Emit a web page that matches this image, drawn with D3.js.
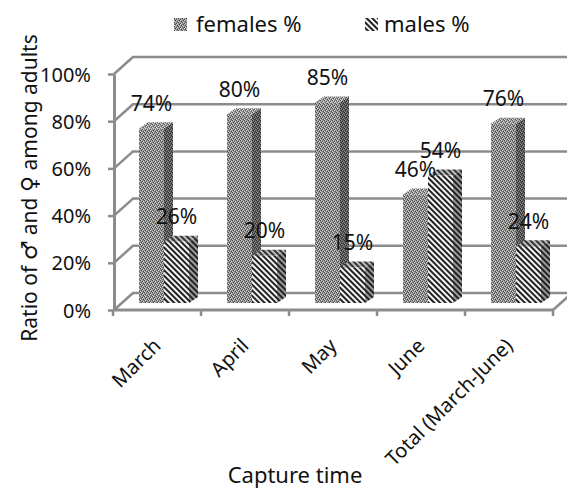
<!DOCTYPE html>
<html lang="en">
<head>
    <meta charset="UTF-8">
    <title>Ratio of males and females among adults</title>
    <script src="https://d3js.org/d3.v7.min.js"></script>
    <style>
        body { margin: 0; background: #fff; }
        text { font-family: "Noto Sans", "DejaVu Sans", sans-serif; fill: #111; }
    </style>
</head>
<body>
    <div id="chart"></div>
    <script>
        // Data
        const categories = ["March", "April", "May", "June", "Total (March-June)"];
        const females = [74, 80, 85, 46, 76];
        const males = [26, 20, 15, 54, 24];
        const yTicks = [0, 20, 40, 60, 80, 100];
        const seriesNames = ["females %", "males %"];

        const width = 567;
        const height = 488;

        const svg = d3.select("#chart")
            .append("svg")
            .attr("width", width)
            .attr("height", height);

        // Patterns for the 3D faces
        const defs = svg.append("defs");

        function dotPattern(id, base, dark, light) {
            const p = defs.append("pattern")
                .attr("id", id)
                .attr("patternUnits", "userSpaceOnUse")
                .attr("width", 4)
                .attr("height", 4);
            p.append("rect").attr("width", 4).attr("height", 4).attr("fill", base);
            [[0, 0], [2, 1], [1, 2], [3, 3]].forEach(([a, b]) =>
                p.append("rect").attr("x", a).attr("y", b).attr("width", 1).attr("height", 1).attr("fill", dark));
            [[1, 0], [3, 1], [0, 3], [2, 2]].forEach(([a, b]) =>
                p.append("rect").attr("x", a).attr("y", b).attr("width", 1).attr("height", 1).attr("fill", light));
        }

        function stripePattern(id, bg, fg) {
            const p = defs.append("pattern")
                .attr("id", id)
                .attr("patternUnits", "userSpaceOnUse")
                .attr("width", 4)
                .attr("height", 4)
                .attr("patternTransform", "rotate(-45)");
            p.append("rect").attr("width", 4).attr("height", 4).attr("fill", bg);
            p.append("rect").attr("width", 2).attr("height", 4).attr("fill", fg);
        }

        dotPattern("fFront", "#8e8e8e", "#4a4a4a", "#cfcfcf");
        dotPattern("fSide", "#5a5a5a", "#2e2e2e", "#8a8a8a");
        dotPattern("fTop", "#9a9a9a", "#555", "#d8d8d8");
        stripePattern("mFront", "#f4f4f4", "#222");
        stripePattern("mSide", "#9a9a9a", "#222");
        stripePattern("mTop", "#bbb", "#333");

        // Scales: front plane, back wall offset, bar plane
        const x = d3.scaleBand().domain(categories).range([113, 553]);
        const y = d3.scaleLinear().domain([0, 100]).range([310, 74]);
        const yBar = d3.scaleLinear().domain([0, 100]).range([303, 67]);
        const wallDx = 19, wallDy = -17;
        const barW = 25, sideDx = 9, topDy = -6;

        const grid = "#8c8c8c";
        const walls = svg.append("g");

        // Back wall gridlines
        walls.selectAll(".grid")
            .data(yTicks)
            .enter()
            .append("line")
            .attr("x1", 113 + wallDx)
            .attr("x2", width + 10)
            .attr("y1", d => y(d) + wallDy)
            .attr("y2", d => y(d) + wallDy)
            .attr("stroke", grid)
            .attr("stroke-width", 2.5);

        // Side wall diagonals
        walls.selectAll(".diag")
            .data(yTicks)
            .enter()
            .append("line")
            .attr("x1", 114)
            .attr("x2", 114 + wallDx)
            .attr("y1", d => y(d))
            .attr("y2", d => y(d) + wallDy)
            .attr("stroke", grid)
            .attr("stroke-width", 2.5);

        // Floor right edge
        walls.append("line")
            .attr("x1", 553).attr("y1", y(0))
            .attr("x2", 553 + wallDx).attr("y2", y(0) + wallDy)
            .attr("stroke", grid).attr("stroke-width", 2.5);

        // Bars
        const bars = [];
        categories.forEach((c, i) => {
            const cx = x(c) + x.bandwidth() / 2;
            bars.push({ cat: c, left: cx - 18, v: females[i], s: "f" });
            bars.push({ cat: c, left: cx + 7, v: males[i], s: "m" });
        });

        const barG = svg.append("g");
        bars.forEach(b => {
            const top = yBar(b.v), bot = yBar(0);
            const g = barG.append("g");
            // side
            g.append("path")
                .attr("d", `M${b.left + barW},${top} L${b.left + barW + sideDx},${top + topDy} L${b.left + barW + sideDx},${bot + topDy} L${b.left + barW},${bot} Z`)
                .attr("fill", `url(#${b.s}Side)`);
            // top
            g.append("path")
                .attr("d", `M${b.left},${top} L${b.left + sideDx},${top + topDy} L${b.left + barW + sideDx},${top + topDy} L${b.left + barW},${top} Z`)
                .attr("fill", `url(#${b.s}Top)`);
            // front
            g.append("rect")
                .attr("x", b.left)
                .attr("y", top)
                .attr("width", barW)
                .attr("height", bot - top)
                .attr("fill", `url(#${b.s}Front)`);
        });

        // Front value axis
        const yAxis = svg.append("g")
            .attr("transform", "translate(114,0)")
            .call(d3.axisLeft(y).tickValues(yTicks).tickFormat(d => d + "%").tickSize(6).tickSizeOuter(0).tickPadding(17));
        yAxis.attr("font-size", null).attr("font-family", null);
        yAxis.select(".domain").attr("stroke", grid).attr("stroke-width", 3);
        yAxis.selectAll(".tick line").attr("stroke", grid).attr("stroke-width", 2.5);
        yAxis.selectAll(".tick text")
            .style("font-size", "20px")
            .attr("fill", "#111")
            .attr("dy", "0.35em");

        // Front category axis (floor front edge)
        svg.append("line")
            .attr("x1", 113).attr("x2", 553)
            .attr("y1", y(0)).attr("y2", y(0))
            .attr("stroke", grid).attr("stroke-width", 3);
        const bounds = categories.map(c => x(c)).concat([x.range()[1]]);
        svg.selectAll(".xtick")
            .data(bounds)
            .enter()
            .append("line")
            .attr("x1", d => d).attr("x2", d => d)
            .attr("y1", y(0)).attr("y2", y(0) + 6)
            .attr("stroke", grid).attr("stroke-width", 2.5);

        // Category labels
        svg.selectAll(".xlab")
            .data(categories)
            .enter()
            .append("text")
            .attr("transform", d => `translate(${x(d) + x.bandwidth() / 2 + 5},${347}) rotate(-45)`)
            .attr("text-anchor", "end")
            .style("font-size", "20px")
            .text(d => d);

        // Data labels
        barG.selectAll(".vlab")
            .data(bars)
            .enter()
            .append("text")
            .attr("x", d => d.left + barW / 2)
            .attr("y", d => yBar(d.v) - 17.5)
            .attr("text-anchor", "middle")
            .style("font-size", "21px")
            .text(d => d.v + "%");

        // Axis titles
        svg.append("text")
            .attr("x", 295)
            .attr("y", 483)
            .attr("text-anchor", "middle")
            .style("font-size", "22px")
            .text("Capture time");

        const yTitle = svg.append("text")
            .attr("transform", "translate(37,188) rotate(-90)")
            .attr("text-anchor", "middle")
            .style("font-size", "21px");
        yTitle.append("tspan").text("Ratio of ");
        yTitle.append("tspan").style("font-family", "DejaVu Sans").style("font-size", "22px").text("\u2642");
        yTitle.append("tspan").text(" and ");
        yTitle.append("tspan").style("font-family", "DejaVu Sans").style("font-size", "22px").text("\u2640");
        yTitle.append("tspan").text(" among adults");

        // Legend
        const legendX = [174, 365];
        const legend = svg.selectAll(".legend")
            .data(seriesNames)
            .enter()
            .append("g")
            .attr("transform", (d, i) => `translate(${legendX[i]},18)`);
        legend.append("rect")
            .attr("width", 13)
            .attr("height", 13)
            .attr("fill", (d, i) => i === 0 ? "url(#fFront)" : "url(#mFront)");
        legend.append("text")
            .attr("x", (d, i) => i === 0 ? 22 : 19)
            .attr("y", 14)
            .style("font-size", "22px")
            .text(d => d);
    </script>
</body>
</html>
